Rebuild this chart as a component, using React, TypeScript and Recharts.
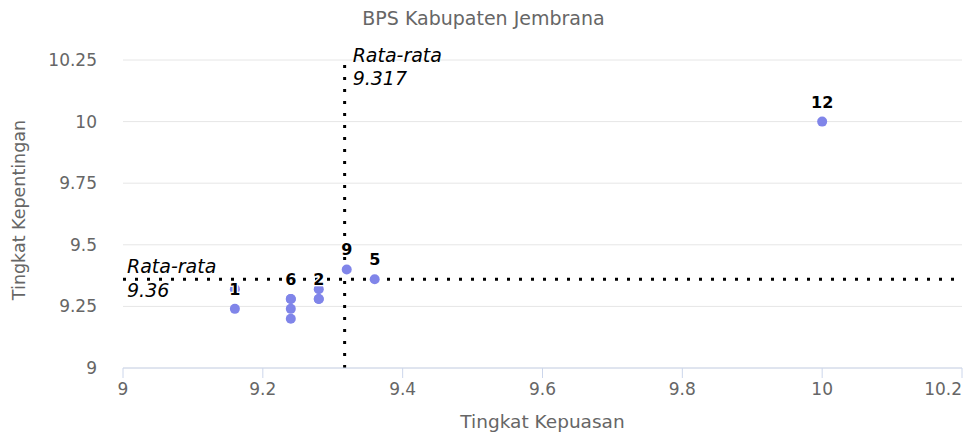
import React from "react";
import {
  ScatterChart,
  Scatter,
  XAxis,
  YAxis,
  CartesianGrid,
  ReferenceLine,
} from "recharts";

// nomor atribut, nilai kepuasan (x) dan kepentingan (y)
const nomor = [1, 2, 3, 4, 5, 6, 7, 8, 9, 10, 11, 12];
const kepuasan = [9.16, 9.28, 9.16, 9.28, 9.36, 9.24, 9.24, 9.24, 9.32, 9.24, 9.28, 10];
const kepentingan = [9.24, 9.28, 9.32, 9.32, 9.36, 9.28, 9.24, 9.2, 9.4, 9.28, 9.28, 10];

// label yang tampil (sisanya tertutup karena tumpang tindih)
const labelTampil = [1, 2, 5, 6, 9, 12];

const rataKepuasan = 9.317;
const rataKepentingan = 9.36;

const xTicks = [9, 9.2, 9.4, 9.6, 9.8, 10, 10.2];
const yTicks = [9, 9.25, 9.5, 9.75, 10, 10.25];

const data = nomor.map((n, i) => ({ no: n, x: kepuasan[i], y: kepentingan[i] }));

const FONT = "'DejaVu Sans', sans-serif";
const GRAY = "#666666";
const WARNA = "#8085e9";

// titik
function Titik(props: any) {
  const { cx, cy } = props;
  if (cx == null || cy == null) return null;
  return <circle cx={cx} cy={cy} r={5} fill={WARNA} />;
}

// label nomor di atas titik
function LabelTitik(props: any) {
  const { cx, cy, payload } = props;
  if (cx == null || cy == null) return null;
  if (!labelTampil.includes(payload.no)) return <g />;
  return (
    <text
      x={cx}
      y={cy - 14}
      textAnchor="middle"
      fontFamily={FONT}
      fontSize={16}
      fontWeight="bold"
      fill="#000"
      stroke="#fff"
      strokeWidth={2.5}
      strokeLinejoin="round"
      style={{ paintOrder: "stroke" }}
    >
      {payload.no}
    </text>
  );
}

// tick sumbu x, label terakhir digeser ke dalam
function TickX(props: any) {
  const { x, y, payload, index } = props;
  const akhir = index === xTicks.length - 1;
  return (
    <text
      x={x}
      y={y}
      dy="0.71em"
      textAnchor={akhir ? "end" : "middle"}
      fontFamily={FONT}
      fontSize={17}
      fill={GRAY}
    >
      {payload.value}
    </text>
  );
}

function LabelRataX(props: any) {
  const vb = props.viewBox || {};
  return (
    <g fontFamily={FONT} fontSize={19} fontStyle="italic" fill="#000">
      <text x={vb.x + 8} y={vb.y + 2}>Rata-rata</text>
      <text x={vb.x + 8} y={vb.y + 25}>{rataKepuasan}</text>
    </g>
  );
}

function LabelRataY(props: any) {
  const vb = props.viewBox || {};
  return (
    <g fontFamily={FONT} fontSize={19} fontStyle="italic" fill="#000">
      <text x={vb.x + 4} y={vb.y - 6}>Rata-rata</text>
      <text x={vb.x + 4} y={vb.y + 18}>{rataKepentingan}</text>
    </g>
  );
}

function JudulX(props: any) {
  const vb = props.viewBox || {};
  return (
    <text
      x={vb.x + vb.width / 2}
      y={vb.y + vb.height - 8}
      textAnchor="middle"
      fontFamily={FONT}
      fontSize={18.5}
      fill={GRAY}
    >
      Tingkat Kepuasan
    </text>
  );
}

function JudulY(props: any) {
  const vb = props.viewBox || {};
  const cx = 25;
  const cy = vb.y + vb.height / 2 - 4;
  return (
    <text
      x={cx}
      y={cy}
      textAnchor="middle"
      transform={`rotate(-90 ${cx} ${cy})`}
      fontFamily={FONT}
      fontSize={17.5}
      fill={GRAY}
    >
      Tingkat Kepentingan
    </text>
  );
}

export default function App() {
  return (
    <div style={{ position: "absolute", left: 0, top: 0, width: 967, height: 436, background: "#fff" }}>
      <div
        style={{
          position: "absolute",
          top: 7,
          left: 0,
          width: 967,
          textAlign: "center",
          fontFamily: FONT,
          fontSize: 19,
          lineHeight: "22px",
          color: GRAY,
        }}
      >
        BPS Kabupaten Jembrana
      </div>
      <ScatterChart width={967} height={436} margin={{ top: 60, right: 5, bottom: 0, left: 0 }}>
        <CartesianGrid vertical={false} stroke="#e6e6e6" />
        <XAxis
          type="number"
          dataKey="x"
          domain={[9, 10.2]}
          ticks={xTicks}
          interval={0}
          allowDataOverflow
          height={68}
          stroke="#ccd6eb"
          tickSize={10}
          tickMargin={5}
          tick={<TickX />}
          label={<JudulX />}
        />
        <YAxis
          type="number"
          dataKey="y"
          domain={[9, 10.25]}
          ticks={yTicks}
          interval={0}
          allowDataOverflow
          width={123}
          axisLine={false}
          tickLine={false}
          tickSize={0}
          tickMargin={26}
          tick={{ fill: GRAY, fontSize: 17, fontFamily: FONT }}
          label={<JudulY />}
        />
        <ReferenceLine
          x={rataKepuasan}
          stroke="#000"
          strokeWidth={3}
          strokeDasharray="3 9"
          label={<LabelRataX />}
        />
        <ReferenceLine
          y={rataKepentingan}
          stroke="#000"
          strokeWidth={3}
          strokeDasharray="3 9"
          label={<LabelRataY />}
        />
        <Scatter data={data} fill={WARNA} shape={<Titik />} isAnimationActive={false} />
        <Scatter data={data} fill={WARNA} shape={<LabelTitik />} isAnimationActive={false} />
      </ScatterChart>
    </div>
  );
}
